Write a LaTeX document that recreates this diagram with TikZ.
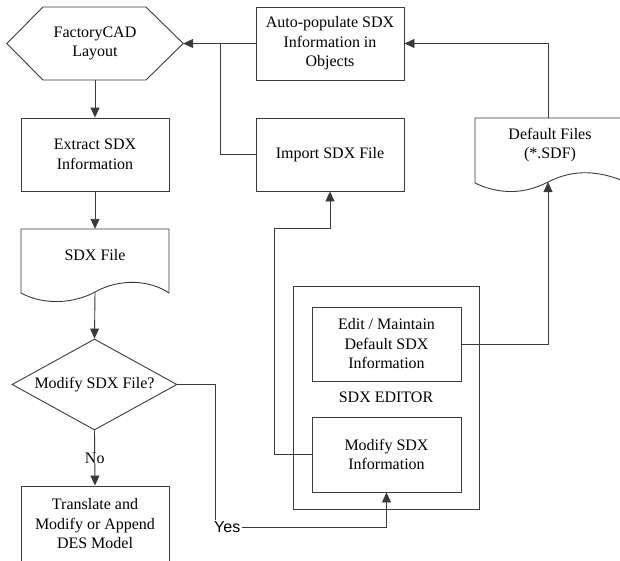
\documentclass[tikz,border=0pt]{standalone}
\usepackage{fontspec}
\setmainfont{Liberation Serif}
\newfontfamily\serfont{Liberation Serif}
\newfontfamily\yesfont{Liberation Sans}
\usetikzlibrary{arrows.meta,shapes.geometric}
\definecolor{ln}{HTML}{3A3A3A}
\tikzset{
  base/.style={font=\serfont\fontsize{16}{19.5}\selectfont, align=center, inner sep=0pt},
  boxnode/.style={base, draw=ln, line width=0.9pt, minimum width=148pt, minimum height=73pt},
  plain/.style={base, minimum width=148pt, minimum height=73pt},
  conn/.style={draw=ln, line width=0.9pt},
  arr/.style={conn, -{Triangle[length=10pt,width=9pt]}},
  shp/.style={draw=ln, line width=0.9pt}
}
\begin{document}
\begin{tikzpicture}[x=1pt,y=-1pt]
\useasboundingbox (0,0) rectangle (620,560);

% FactoryCAD hexagon
\node[base, minimum width=176pt, minimum height=73pt] (fc) at (95,43.5) {FactoryCAD\\Layout};
\draw[shp] (fc.west) -- (43,7) -- (146,7) -- (fc.east) -- (146,80) -- (43,80) -- cycle;

\node[boxnode] (ext) at (95,154.5) {Extract SDX\\Information};

% SDX File document
\node[plain, minimum height=64pt] (sdx) at (95,261) {};
\node[base] (sdxt) at (95,255) {SDX File};
\draw[shp] (21,293) -- (21,229) -- (169,229) -- (169,293)
  .. controls (150,280) and (120,278) .. (95,292)
  .. controls (75,303) and (45,306) .. (21,293);
\coordinate (sdxb) at (95,292);

\node[base, draw=ln, line width=0.9pt, diamond, shape aspect=1.81, minimum width=165pt, minimum height=91pt] (dia) at (94.5,384.5) {Modify SDX File?};

\node[boxnode, minimum height=76pt] (trans) at (95,524) {Translate and\\Modify or Append\\ DES Model};

\node[boxnode] (auto) at (330,43.5) {Auto-populate SDX\\Information in\\Objects};
\node[boxnode] (imp) at (330,154.5) {Import SDX File};

% Default Files document
\node[plain, minimum width=146pt, minimum height=64pt] (df) at (548,150) {};
\node[base] (dft) at (550,145) {Default Files\\(*.SDF)};
\draw[shp] (475,183) -- (475,118) -- (621,118) -- (621,180)
  .. controls (600,172) and (575,168) .. (548,182)
  .. controls (525,194) and (500,195) .. (475,183);
\coordinate (dfb) at (548,182);

% SDX editor
\node[draw=ln, line width=0.9pt, minimum width=186pt, minimum height=223pt, inner sep=0pt] (editor) at (386,397.5) {};
\node[base] (edlabel) at (386,397) {SDX EDITOR};
\node[boxnode, minimum width=149pt, minimum height=74pt] (edit) at (386.5,344) {Edit / Maintain\\ Default SDX\\Information};
\node[boxnode, minimum width=149pt, minimum height=75pt] (mod) at (386.5,454.5) {Modify SDX\\Information};

\node[inner sep=1pt, anchor=west, font=\yesfont\fontsize{16}{18}\selectfont] (yes) at (213,527) {Yes};

\coordinate (j) at (220,43.5);

% connectors
\draw[arr] (fc.south) -- (ext.north);
\draw[arr] (ext.south) -- (sdx.north);
\draw[arr] (sdxb) -- (dia.north);
\draw[arr] (dia.south) -- node[fill=white, inner sep=1.5pt, base] {No} (trans.north);
\draw[conn] (dia.east) -| ([xshift=2pt]yes.north west);
\draw[arr] (yes.east) -| (mod.south);
\draw[arr] (mod.west) -| (274,228) -| (imp.south);
\draw[arr] (edit.east) -| (dfb);
\draw[arr] (df.north) |- (auto.east);
\draw[arr] (auto.west) -- (fc.east);
\draw[conn] (imp.west) -| (j);
\end{tikzpicture}
\end{document}
